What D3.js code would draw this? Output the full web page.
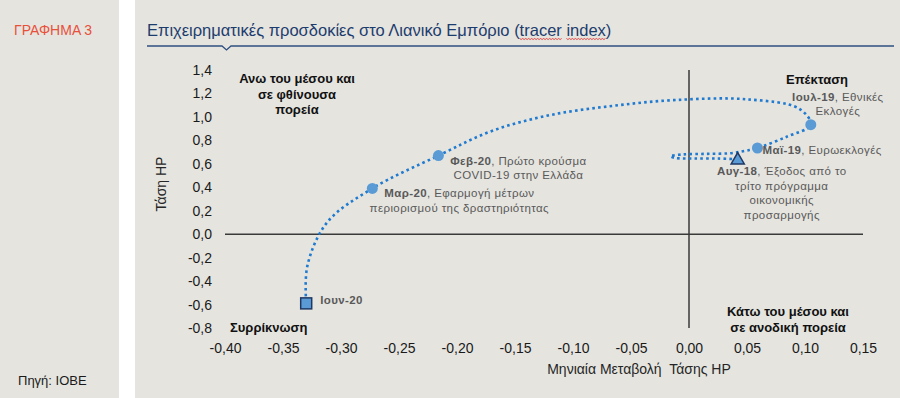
<!DOCTYPE html>
<html>
<head>
<meta charset="utf-8">
<script src="https://cdn.jsdelivr.net/npm/d3@7"></script>
<style>
  body { margin: 0; background: #fff; }
  svg { display: block; font-family: "Liberation Sans", Arial, sans-serif; }
</style>
</head>
<body>
<script>
// monthly tracer path, Aug-18 .. Jun-20
var months = ["Αυγ-18","Σεπ-18","Οκτ-18","Νοε-18","Δεκ-18","Ιαν-19","Φεβ-19","Μαρ-19","Απρ-19","Μαϊ-19",
              "Ιουν-19","Ιουλ-19","Αυγ-19","Σεπ-19","Οκτ-19","Νοε-19","Δεκ-19","Ιαν-20","Φεβ-20","Μαρ-20",
              "Απρ-20","Μαϊ-20","Ιουν-20"];
var change = [0.042, 0.025, 0.005, -0.012, -0.016, -0.005, 0.015, 0.035, 0.048, 0.059,
              0.084, 0.105, 0.095, 0.050, -0.010, -0.065, -0.120, -0.170, -0.216, -0.273,
              -0.312, -0.329, -0.330];
var trend = [0.640, 0.645, 0.645, 0.650, 0.665, 0.680, 0.685, 0.690, 0.710, 0.735,
             0.830, 0.934, 1.070, 1.150, 1.145, 1.095, 1.015, 0.880, 0.670, 0.390,
             0.100, -0.270, -0.590];

var xTicks = [-0.40, -0.35, -0.30, -0.25, -0.20, -0.15, -0.10, -0.05, 0.00, 0.05, 0.10, 0.15];
var yTicks = [-0.8, -0.6, -0.4, -0.2, 0.0, 0.2, 0.4, 0.6, 0.8, 1.0, 1.2, 1.4];

// annotated months
var notes = [
  {m: "Αυγ-18", bold: "Αυγ-18", lines: [", Έξοδος από το", "τρίτο πρόγραμμα", "οικονομικής", "προσαρμογής"], dx: 44, dy: 16, anchor: "middle"},
  {m: "Μαϊ-19", bold: "Μαϊ-19", lines: [", Ευρωεκλογές"], dx: 5, dy: 6, anchor: "start"},
  {m: "Ιουλ-19", bold: "Ιουλ-19", lines: [", Εθνικές", "Εκλογές"], dx: 27, dy: -24, anchor: "middle"},
  {m: "Φεβ-20", bold: "Φεβ-20", lines: [", Πρώτο κρούσμα", "COVID-19 στην Ελλάδα"], dx: 80, dy: 9, anchor: "middle"},
  {m: "Μαρ-20", bold: "Μαρ-20", lines: [", Εφαρμογή μέτρων", "περιορισμού της δραστηριότητας"], dx: 87, dy: 9, anchor: "middle"},
  {m: "Ιουν-20", bold: "Ιουν-20", lines: [""], dx: 14, dy: 1, anchor: "start"}
];
var circles = ["Μαϊ-19", "Ιουλ-19", "Φεβ-20", "Μαρ-20"];

var W = 900, H = 398;
var svg = d3.select("body").append("svg").attr("width", W).attr("height", H);

// panels
svg.append("rect").attr("x", 0).attr("y", 0).attr("width", 119).attr("height", H).attr("fill", "#e5e4df");
svg.append("rect").attr("x", 135).attr("y", 0).attr("width", W - 135).attr("height", H).attr("fill", "#e5e4df");

svg.append("text").attr("x", 14).attr("y", 35).attr("font-size", "14px").attr("fill", "#e8503a")
   .text("ΓΡΑΦΗΜΑ 3");
svg.append("text").attr("x", 18).attr("y", 385).attr("font-size", "13px").attr("fill", "#1a1a1a")
   .text("Πηγή: ΙΟΒΕ");

// title
var titleText = "Επιχειρηματικές προσδοκίες στο Λιανικό Εμπόριο (tracer index)";
var title = svg.append("text").attr("x", 147).attr("y", 36).attr("font-size", "16.5px")
   .attr("fill", "#1d3c6e").text(titleText);
svg.append("path")
   .attr("d", "M147,46H222L226.5,50L231,46H894")
   .attr("fill", "none").attr("stroke", "#2e4f80").attr("stroke-width", 1.3);

// red spell-check squiggles
["tracer", "index"].forEach(function(word) {
  var i = titleText.indexOf(word);
  var x0 = 147 + title.node().getSubStringLength(0, i);
  var x1 = x0 + title.node().getSubStringLength(i, word.length);
  var pts = [];
  for (var x = x0, k = 0; x <= x1; x += 1.5, k++) pts.push([x, 38.5 + (k % 2 ? 1 : 0)]);
  svg.append("path").attr("d", d3.line()(pts)).attr("fill", "none")
     .attr("stroke", "#e02020").attr("stroke-width", 0.8);
});

var x = d3.scaleLinear().domain([-0.4, 0.15]).range([225, 863]);
var y = d3.scaleLinear().domain([-0.8, 1.4]).range([328, 70]);

var comma = function(n) { return function(d) { return d3.format("." + n + "f")(d).replace(".", ",").replace("−", "-"); }; };

// axes labels
var gx = svg.append("g").attr("transform", "translate(0,343)")
  .call(d3.axisBottom(x).tickValues(xTicks).tickSize(0).tickPadding(0).tickFormat(comma(2)));
var gy = svg.append("g").attr("transform", "translate(212,0)")
  .call(d3.axisLeft(y).tickValues(yTicks).tickSize(0).tickPadding(0).tickFormat(comma(1)));
[gx, gy].forEach(function(g) {
  g.select(".domain").remove();
  g.selectAll("text").attr("font-size", "14px").attr("fill", "#1a1a1a")
   .attr("font-family", "'Liberation Sans', Arial, sans-serif");
});

// zero lines
svg.append("line").attr("x1", x(-0.4)).attr("x2", x(0.15)).attr("y1", y(0)).attr("y2", y(0))
   .attr("stroke", "#3a3a3a").attr("stroke-width", 1.5);
svg.append("line").attr("x1", x(0)).attr("x2", x(0)).attr("y1", y(1.4)).attr("y2", y(-0.8))
   .attr("stroke", "#3a3a3a").attr("stroke-width", 1.5);

// axis titles
svg.append("text").attr("x", 639).attr("y", 374).attr("text-anchor", "middle")
   .attr("font-size", "14px").attr("fill", "#262626").attr("xml:space", "preserve")
   .text("Μηνιαία Μεταβολή  Τάσης HP");
svg.append("text").attr("transform", "translate(166,184) rotate(-90)").attr("text-anchor", "middle")
   .attr("font-size", "14px").attr("fill", "#262626").text("Τάση HP");

// quadrant labels
function block(lines, cx, y0, anchor) {
  var t = svg.append("text").attr("text-anchor", anchor).attr("font-size", "13px")
     .attr("font-weight", "bold").attr("fill", "#111");
  lines.forEach(function(s, i) {
    t.append("tspan").attr("x", cx).attr("y", y0 + i * 15.5).text(s);
  });
}
block(["Ανω του μέσου και", "σε φθίνουσα", "πορεία"], 297, 83, "middle");
block(["Επέκταση"], 817, 84, "middle");
block(["Κάτω του μέσου και", "σε ανοδική πορεία"], 788, 316, "middle");
block(["Συρρίκνωση"], 230, 332, "start");

// path
var pts = months.map(function(m, i) { return [change[i], trend[i]]; });
svg.append("path")
   .attr("d", d3.line().x(function(d) { return x(d[0]); }).y(function(d) { return y(d[1]); })
                 .curve(d3.curveCatmullRom.alpha(0.5))(pts))
   .attr("fill", "none").attr("stroke", "#1f7ad0").attr("stroke-width", 2.6)
   .attr("stroke-dasharray", "2.6,3.2");

function pos(m) { var i = months.indexOf(m); return [x(change[i]), y(trend[i])]; }

svg.selectAll("circle.m").data(circles).enter().append("circle")
   .attr("cx", function(m) { return pos(m)[0]; })
   .attr("cy", function(m) { return pos(m)[1]; })
   .attr("r", 5.5).attr("fill", "#5b9bd5");

var pSq = pos("Ιουν-20");
svg.append("rect").attr("x", pSq[0] - 5.5).attr("y", pSq[1] - 5.5).attr("width", 11).attr("height", 11)
   .attr("fill", "#5b9bd5").attr("stroke", "#1f3864").attr("stroke-width", 1.5);
var pTr = pos("Αυγ-18");
svg.append("path").attr("transform", "translate(" + pTr[0] + "," + (pTr[1] + 1) + ")")
   .attr("d", d3.symbol(d3.symbolTriangle).size(75)())
   .attr("fill", "#5b9bd5").attr("stroke", "#1f3864").attr("stroke-width", 1.5);

// annotations
notes.forEach(function(n) {
  var p = pos(n.m);
  var t = svg.append("text").attr("text-anchor", n.anchor).attr("font-size", "11.5px")
     .attr("fill", "#595959").attr("letter-spacing", "0.4px");
  n.lines.forEach(function(s, i) {
    var ts = t.append("tspan").attr("x", p[0] + n.dx).attr("y", p[1] + n.dy + i * 14.5);
    if (i === 0) {
      ts.append("tspan").attr("font-weight", "bold").text(n.bold);
      ts.append("tspan").text(s);
    } else {
      ts.text(s);
    }
  });
});
</script>
</body>
</html>
